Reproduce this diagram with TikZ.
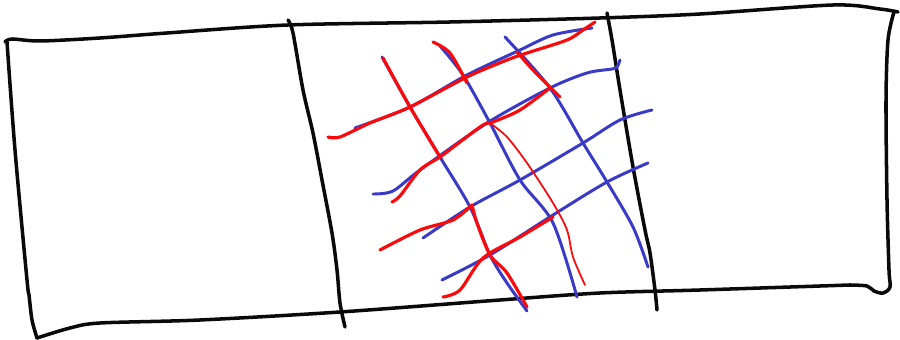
\documentclass[tikz,border=0pt]{standalone}
\usepackage{xcolor}
\definecolor{skInk}{RGB}{10,10,10}
\definecolor{skBlue}{RGB}{58,58,200}
\definecolor{skRed}{RGB}{250,10,10}

\begin{document}
\begin{tikzpicture}[x=0.01cm, y=-0.01cm, line cap=round, line join=round,
  inkline/.style={draw=skInk, line width=1pt},
  blueline/.style={draw=skBlue, line width=0.85pt},
  redline/.style={draw=skRed, line width=0.9pt},
  redthin/.style={draw=skRed, line width=0.5pt}]
\useasboundingbox (0,0) rectangle (900,340);

% outer frame
\draw[inkline] plot[smooth] coordinates {(5,42) (12,39) (40,41) (100,38) (167,33) (288,25) (450,22) (600,18) (700,14) (833,5) (880,9) (898,12)};
\draw[inkline] plot[smooth] coordinates {(894,12) (888,40) (886,100) (887,200) (889,270) (890,287) (883,293) (874,291) (867,286) (850,285)};
\draw[inkline] plot[smooth] coordinates {(850,285) (700,290) (600,293) (500,300) (340,312) (200,320) (100,323) (70,328) (37,338)};
\draw[inkline] plot[smooth] coordinates {(37,338) (32,320) (29,295) (27,280) (15,150) (7,42)};

% inner dividers
\draw[inkline] plot[smooth] coordinates {(288,20) (293,33) (303,90) (313,133) (322,180) (332,233) (337,270) (340,303) (345,327)};
\draw[inkline] plot[smooth] coordinates {(607,13) (612,40) (620,90) (633,167) (645,230) (650,253) (655,290) (657,310)};

% blue grid, rising strokes
\draw[blueline] plot[smooth] coordinates {(355,128) (410,107) (467,75) (520,50) (553,35) (592,28)};
\draw[blueline] plot[smooth] coordinates {(373,194) (393,191) (420,170) (487,123) (550,88) (587,73) (612,69) (617,67) (620,60)};
\draw[blueline] plot[smooth] coordinates {(423,238) (470,207) (520,180) (583,143) (620,120) (652,110)};
\draw[blueline] plot[smooth] coordinates {(442,280) (490,255) (553,215) (607,182) (648,163)};

% blue grid, falling strokes
\draw[blueline] plot[smooth] coordinates {(382,57) (410,107) (440,157) (470,207) (490,255) (507,283) (527,311)};
\draw[blueline] plot[smooth] coordinates {(440,46) (463,75) (490,123) (520,180) (553,223) (577,297)};
\draw[blueline] plot[smooth] coordinates {(505,37) (550,88) (583,143) (607,182) (633,227) (648,267)};

% red strokes over the grid
\draw[redline] plot[smooth] coordinates {(328,137) (340,137) (370,123) (410,107) (467,77) (507,60) (527,53) (567,40) (583,30) (595,22)};
\draw[redline] plot[smooth] coordinates {(392,202) (400,196) (420,170) (440,157) (460,142) (483,125) (493,122) (520,110) (550,88)};
\draw[redline] plot[smooth] coordinates {(380,250) (420,230) (453,220) (472,205)};
\draw[redline] plot[smooth] coordinates {(443,297) (460,290) (483,258) (520,237) (553,217)};
\draw[redline] plot[smooth] coordinates {(383,58) (410,107) (440,157)};
\draw[redline] plot[smooth] coordinates {(433,42) (450,53) (467,83)};
\draw[redline] plot[smooth] coordinates {(517,52) (533,70) (560,97)};
\draw[redline] plot[smooth] coordinates {(472,205) (477,223) (490,255) (507,273) (527,307)};
\draw[redthin] plot[smooth] coordinates {(490,123) (507,137) (527,163) (553,203) (567,230) (573,257) (585,285)};
\end{tikzpicture}
\end{document}
